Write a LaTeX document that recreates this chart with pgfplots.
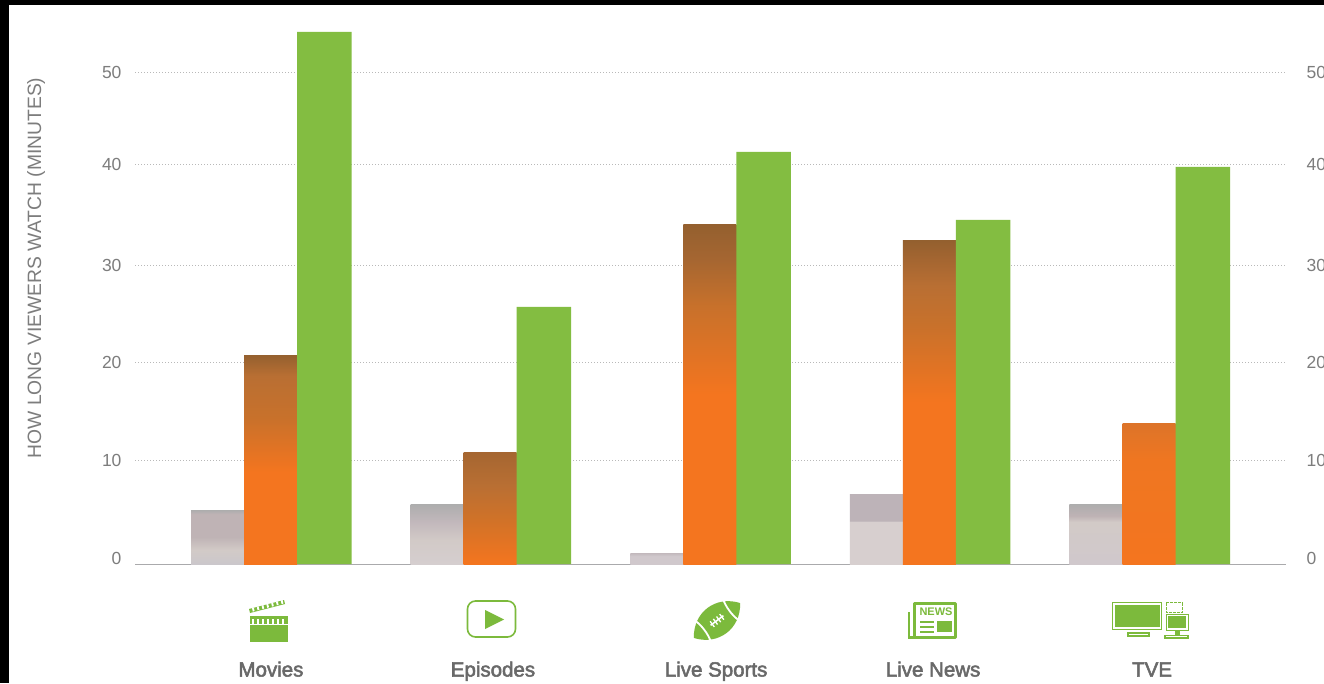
\documentclass[border=0pt]{standalone}
\usepackage{fontspec}
\setmainfont{Liberation Sans}
\newfontfamily\catfont[RawFeature={embolden=2.5}]{Liberation Sans}
\usepackage{pgfplots}
\pgfplotsset{compat=1.18}
\definecolor{barGreen}{RGB}{131,189,65}
\definecolor{iconGreen}{RGB}{124,186,60}
\definecolor{barOrange}{RGB}{244,117,31}
\definecolor{tickGray}{RGB}{125,125,125}
\definecolor{catGray}{RGB}{105,105,105}
\definecolor{gridGray}{RGB}{185,185,185}
\definecolor{baseGray}{RGB}{170,170,172}
\definecolor{brA}{HTML}{94602F}
\definecolor{brB}{HTML}{A56631}
\definecolor{brC}{HTML}{B96F33}
\definecolor{brD}{HTML}{C8712B}
\definecolor{brE}{HTML}{D07228}
\definecolor{brF}{HTML}{DD7429}
\definecolor{brG}{HTML}{EF7621}
\definecolor{grA}{HTML}{ADADAD}
\definecolor{grB}{HTML}{BFB3B5}
\definecolor{grC}{HTML}{D2CAC7}
\definecolor{grD}{HTML}{CBC7CB}
\definecolor{grE}{HTML}{C2B8BC}
\definecolor{grF}{HTML}{D5CECF}
\definecolor{grG}{HTML}{BDB3B8}
\definecolor{grH}{HTML}{D7CFCF}
\definecolor{grI}{HTML}{D0C8CC}
% the bar's own box runs from 25bp (bottom) to 75bp (top)
\pgfdeclareverticalshading{orMovies}{100bp}{color(0bp)=(barOrange); color(47bp)=(barOrange); color(60bp)=(brD); color(70bp)=(brC); color(75bp)=(brA); color(100bp)=(brA)}
\pgfdeclareverticalshading{orEpisodes}{100bp}{color(0bp)=(barOrange); color(25bp)=(barOrange); color(45bp)=(brE); color(60bp)=(brC); color(75bp)=(brB); color(100bp)=(brB)}
\pgfdeclareverticalshading{orSports}{100bp}{color(0bp)=(barOrange); color(50bp)=(barOrange); color(63bp)=(brD); color(70bp)=(brB); color(75bp)=(brA); color(100bp)=(brA)}
\pgfdeclareverticalshading{orNews}{100bp}{color(0bp)=(barOrange); color(50bp)=(barOrange); color(62bp)=(brD); color(68bp)=(brC); color(72bp)=(brB); color(75bp)=(brA); color(100bp)=(brA)}
\pgfdeclareverticalshading{orTve}{100bp}{color(0bp)=(barOrange); color(25bp)=(barOrange); color(62bp)=(brG); color(75bp)=(brF); color(100bp)=(brF)}
\pgfdeclareverticalshading{grMovies}{100bp}{color(0bp)=(grD); color(25bp)=(grD); color(38bp)=(grC); color(50bp)=(grB); color(71bp)=(grB); color(75bp)=(grA); color(100bp)=(grA)}
\pgfdeclareverticalshading{grEpisodes}{100bp}{color(0bp)=(grF); color(25bp)=(grF); color(45bp)=(grC); color(60bp)=(grE); color(75bp)=(grA); color(100bp)=(grA)}
\pgfdeclareverticalshading{grSports}{100bp}{color(0bp)=(grI); color(60bp)=(grI); color(75bp)=(grE); color(100bp)=(grE)}
\pgfdeclareverticalshading{grNews}{100bp}{color(0bp)=(grH); color(55bp)=(grH); color(56bp)=(grG); color(100bp)=(grG)}
\pgfdeclareverticalshading{grTve}{100bp}{color(0bp)=(grI); color(25bp)=(grI); color(60bp)=(grC); color(65bp)=(grB); color(75bp)=(grA); color(100bp)=(grA)}
\pgfplotsset{
  grayBar/.style={ybar, draw=none, bar width=53pt, bar shift=-53pt},
  orangeBar/.style={ybar, draw=none, bar width=53pt, bar shift=0pt},
  greenBar/.style={ybar, draw=none, fill=barGreen, bar width=54.6pt, bar shift=53.8pt},
  baseAxis/.style={
    at={(135pt,119pt)}, anchor=south west,
    scale only axis, width=1151pt, height=560pt,
    xmin=-0.617, xmax=4.624, ymin=0, ymax=56,
    axis line style={-},
    y axis line style={draw=none},
    x axis line style={draw=baseGray, line width=1pt},
    tick style={draw=none},
    ytick={10.35,20.2,29.9,40,49.2},
    yticklabels={10,20,30,40,\raisebox{-4pt}{50}},
    extra y ticks={0.6},
    extra y tick labels={0},
    extra y tick style={grid=none},
    /pgf/number format/assume math mode=true,
    tick label style={font=\fontsize{17.5}{20}\selectfont, text=tickGray},
  },
}
\begin{document}
\begin{tikzpicture}[x=1pt,y=1pt]
\useasboundingbox (0,0) rectangle (1324,683);
\clip (0,0) rectangle (1324,683);
\fill[black] (0,0) rectangle (1324,683);
\fill[white] (9,0) rectangle (1324,678);
\begin{axis}[
  baseAxis,
  axis lines*=left,
  ymajorgrids=true,
  grid style={draw=gridGray, line width=0.9pt, dash pattern=on 1pt off 2pt},
  xtick={0.002,1.013,2.029,3.017,4.014},
  xticklabels={Movies,Episodes,Live Sports,Live News,TVE},
  xticklabel style={font=\catfont\fontsize{20.5}{24}\selectfont, text=catGray,
    text height=15pt, text depth=4pt, yshift=-94pt},
  yticklabel style={xshift=-10pt},
  ylabel={HOW LONG VIEWERS WATCH (MINUTES)},
  ylabel style={at={(axis description cs:-0.086,0.5286)}, anchor=center,
    font=\fontsize{19.3}{22}\selectfont, text=tickGray},
]
% gray
\addplot[grayBar, shade, shading=grMovies] coordinates {(0,5.4)};
\addplot[grayBar, shade, shading=grEpisodes] coordinates {(1,6.0)};
\addplot[grayBar, shade, shading=grSports] coordinates {(2,1.1)};
\addplot[grayBar, shade, shading=grNews] coordinates {(3,7.0)};
\addplot[grayBar, shade, shading=grTve] coordinates {(4,6.0)};
% orange
\addplot[orangeBar, shade, shading=orMovies] coordinates {(0,20.9)};
\addplot[orangeBar, shade, shading=orEpisodes] coordinates {(1,11.2)};
\addplot[orangeBar, shade, shading=orSports] coordinates {(2,33.9)};
\addplot[orangeBar, shade, shading=orNews] coordinates {(3,32.3)};
\addplot[orangeBar, shade, shading=orTve] coordinates {(4,14.1)};
% green
\addplot[greenBar] coordinates {(0,53.2) (1,25.7) (2,41.2) (3,34.4) (4,39.7)};
\end{axis}
% right hand tick labels
\begin{axis}[
  baseAxis,
  axis x line*=bottom,
  axis y line*=right,
  xtick=\empty,
  x axis line style={draw=none},
  yticklabel style={xshift=17pt},
]
\end{axis}
% icons, in picture pixels
\begin{scope}[shift={(0pt,683pt)},x=1pt,y=-1pt]
  % clapper board
  \fill[iconGreen] (250,625) rectangle (288,642);
  \fill[iconGreen] (250,616) rectangle (288,624);
  \foreach \i in {252,257,...,285} {\fill[white] (\i,619) rectangle ++(2,5);}
  \fill[iconGreen] (249,609) -- (284,600) -- (285,604) -- (250,613) -- cycle;
  \foreach \i in {0,1,...,6} {\fill[white] (252+\i*4.8,608-\i*1.25) -- ++(1.8,-0.5) -- ++(0.8,3.6) -- ++(-1.8,0.5) -- cycle;}
  % play button
  \draw[iconGreen, line width=1.6pt, rounded corners=8pt] (467.5,601) rectangle (515.5,637);
  \fill[iconGreen] (485,610) -- (504,619.5) -- (485,629) -- cycle;
  % football
  \begin{scope}[shift={(717pt,-620.5pt)},rotate=37]
    \fill[iconGreen] (-29,0) .. controls (-14,-21) and (14,-21) .. (29,0)
      .. controls (14,21) and (-14,21) .. (-29,0) -- cycle;
    \draw[white, line width=1.8pt] (-18,-15) .. controls (-15,-5) and (-15,5) .. (-18,15);
    \draw[white, line width=1.8pt] (18,-15) .. controls (15,-5) and (15,5) .. (18,15);
    \draw[white, line width=1.5pt] (-8,0) -- (8,0);
    \foreach \i in {-6,-2,2,6} {\draw[white, line width=1.3pt] (\i,-3.5) -- (\i,3.5);}
  \end{scope}
  % newspaper
  \draw[iconGreen, line width=2.6pt, line join=round] (914.5,603.5) rectangle (955.5,637.5);
  \draw[iconGreen, line width=2.6pt] (909,612) -- (909,637.5) -- (915,637.5);
  \node[iconGreen, font=\bfseries\fontsize{11}{11}\selectfont, inner sep=0pt] at (936,612) {NEWS};
  \foreach \yy in {622,627,632} {\fill[iconGreen] (920,\yy-1) rectangle (934,\yy+1);}
  \fill[iconGreen] (937,621) rectangle (952,632);
  % screens
  \draw[iconGreen, line width=1pt] (1112.5,602.5) rectangle (1161.5,629);
  \fill[iconGreen] (1115,604.5) rectangle (1159.5,627);
  \draw[iconGreen, line width=1.2pt] (1128,633) rectangle (1149,636);
  \draw[iconGreen, line width=1pt, dash pattern=on 3pt off 1pt] (1166,602.5) rectangle (1182,612);
  \draw[iconGreen, line width=1pt] (1166,614) rectangle (1188,630);
  \fill[iconGreen] (1168,616) rectangle (1186,628);
  \fill[iconGreen] (1175,630) rectangle (1180,635);
  \draw[iconGreen, line width=1.2pt] (1165,635.5) rectangle (1188,638);
\end{scope}
\end{tikzpicture}
\end{document}
